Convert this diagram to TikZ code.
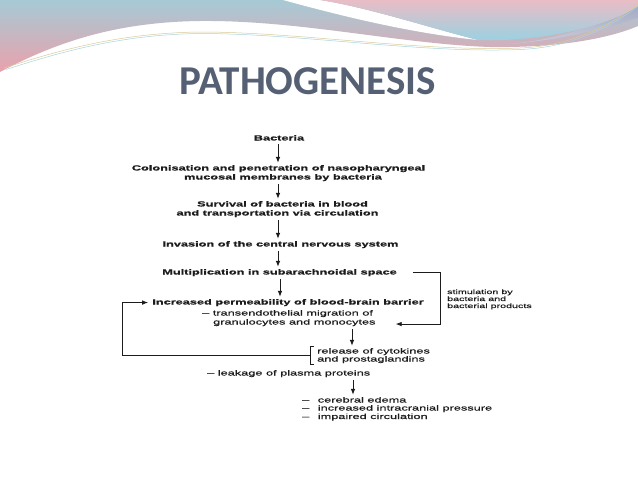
\documentclass[tikz,border=0pt]{standalone}
\usepackage{fontspec}
\setmainfont{Liberation Sans}
\newfontfamily\dgfont[FakeStretch=1.7, FakeBold=0.5]{Liberation Sans}
\newfontfamily\dgbold[FakeStretch=1.7, FakeBold=0.9]{Liberation Sans Bold}
\newfontfamily\ttlfont{Carlito}
\usetikzlibrary{arrows.meta,calc}
\definecolor{ink}{HTML}{1C1C1C}
\definecolor{ttlc}{HTML}{566074}
\definecolor{bandtop}{HTML}{A6CAD5}
\definecolor{bandbot}{HTML}{E9A1AC}
\definecolor{rtop}{HTML}{E9BDC6}
\definecolor{rbot}{HTML}{98D2E2}
\definecolor{lavtop}{HTML}{9EA6C0}
\definecolor{lavbot}{HTML}{C9CBD9}
\definecolor{goldl}{HTML}{D8CC98}
\definecolor{bluel}{HTML}{A9D4DD}
\begin{document}
\begin{tikzpicture}[x=1pt,y=-1pt,
  stp/.style={font=\dgbold\fontsize{7.5}{9}\selectfont, inner sep=0pt, anchor=base, text=ink},
  sub/.style={font=\dgfont\fontsize{7.5}{9}\selectfont, inner sep=0pt, anchor=base west, text=ink},
  small/.style={font=\dgfont\fontsize{6.3}{7}\selectfont, inner sep=0pt, anchor=base west, text=ink},
  arr/.style={draw=ink, line width=0.9pt, -{Latex[length=6pt,width=4.6pt]}, shorten <=3pt, shorten >=2pt},
  loop/.style={draw=ink, line width=0.8pt, -{Latex[length=6pt,width=4.6pt]}},
  ln/.style={draw=ink, line width=0.8pt}]
\useasboundingbox (0,0) rectangle (638,479);
\fill[white] (0,0) rectangle (638,479);
% top waves
\shade[top color=bandtop, bottom color=bandbot] (0,0) -- (638,0) -- (638,26)
  .. controls (610,38) and (560,48) .. (490,47)
  .. controls (400,44) and (300,20) .. (200,21)
  .. controls (120,22) and (60,40) .. (0,72) -- cycle;
\fill[white] (283,0) .. controls (320,10) and (400,32) .. (478,40)
  .. controls (430,28) and (370,8) .. (320,0) -- cycle;
\shade[top color=lavtop, bottom color=lavbot] (638,0) -- (638,18)
  .. controls (600,30) and (560,40) .. (510,44)
  .. controls (570,38) and (610,20) .. (638,2) -- cycle;
\shade[top color=rtop, bottom color=rbot] (320,0) -- (638,0) -- (638,6)
  .. controls (610,25) and (545,42) .. (478,40)
  .. controls (430,28) and (370,8) .. (320,0) -- cycle;
\draw[goldl, line width=0.5pt] (4,68) .. controls (60,50) and (120,33) .. (200,32)
  .. controls (300,32) and (420,52) .. (520,48) .. controls (575,46) and (615,22) .. (638,4);
\draw[bluel, line width=0.5pt] (6,69.5) .. controls (62,51.5) and (122,34.5) .. (200,33.5)
  .. controls (300,33.5) and (420,53.5) .. (520,49.5) .. controls (575,47.5) and (615,24) .. (638,6);
% title
\node[font=\ttlfont\bfseries\fontsize{41}{48}\selectfont, text=ttlc, anchor=base, inner sep=0pt] (title) at (307.5,94) {PATHOGENESIS};
% main steps
\node[stp] (bac) at (279,140.5) {Bacteria};
\node[stp] (col1) at (278.5,170.5) {Colonisation and penetration of nasopharyngeal};
\node[stp] (col2) at (283,179.5) {mucosal membranes by bacteria};
\node[stp] (surv1) at (282.5,206.5) {Survival of bacteria in blood};
\node[stp] (surv2) at (277.5,215.5) {and transportation via circulation};
\node[stp] (inv) at (280.5,246.5) {Invasion of the central nervous system};
\node[stp] (mult) at (279.5,274.5) {Multiplication in subarachnoidal space};
\node[stp] (incr) at (288,304.5) {Increased permeability of blood-brain barrier};
\node[sub] (trans) at (202,315.5) {– transendothelial migration of};
\node[sub] (gran) at (213,324.5) {granulocytes and monocytes};
\node[sub] (rel1) at (317,353.5) {release of cytokines};
\node[sub] (rel2) at (317,361.5) {and prostaglandins};
\node[sub] (leak) at (207,375.5) {– leakage of plasma proteins};
\node[sub] (eff1) at (302,402.5) {–\hspace{5pt} cerebral edema};
\node[sub] (eff2) at (302,410.5) {–\hspace{5pt} increased intracranial pressure};
\node[sub] (eff3) at (302,419) {–\hspace{5pt} impaired circulation};
\node[small] (stim1) at (447,294) {stimulation by};
\node[small] (stim2) at (447,301) {bacteria and};
\node[small] (stim3) at (447,308) {bacterial products};
% column coordinates
\coordinate (cx) at (278,0);
\coordinate (ax) at (352,0);
\coordinate (bx) at (353,0);
\coordinate (rx) at (440,0);
% vertical arrows
\draw[arr] (cx |- bac.south) -- (cx |- col1.north);
\draw[arr] (cx |- col2.south) -- (cx |- surv1.north);
\draw[arr] (cx |- surv2.south) -- (cx |- inv.north);
\draw[arr] (cx |- inv.south) -- (cx |- mult.north);
\draw[arr] ([xshift=2pt]cx |- mult.south) -- ([xshift=2pt]cx |- incr.north);
\draw[arr] (ax |- gran.south) -- (ax |- rel1.north);
\draw[arr] (bx |- leak.south) -- (bx |- eff1.north);
% bracket at release
\draw[ln] ([xshift=-3pt,yshift=1pt]rel1.north west) -| ([xshift=-7pt,yshift=-1pt]rel2.south west) -- ([xshift=-3pt,yshift=-1pt]rel2.south west);
% stimulation loop
\draw[loop] ([xshift=16pt]mult.east) -- (rx |- mult.east) |- ([xshift=20pt,yshift=-1.5pt]gran.east);
% feedback loop
\draw[loop] ([xshift=-7pt]$(rel1.west)!0.5!(rel2.west)$) -| ([xshift=-30pt]incr.west) -- ([xshift=-4pt]incr.west);
\end{tikzpicture}
\end{document}
